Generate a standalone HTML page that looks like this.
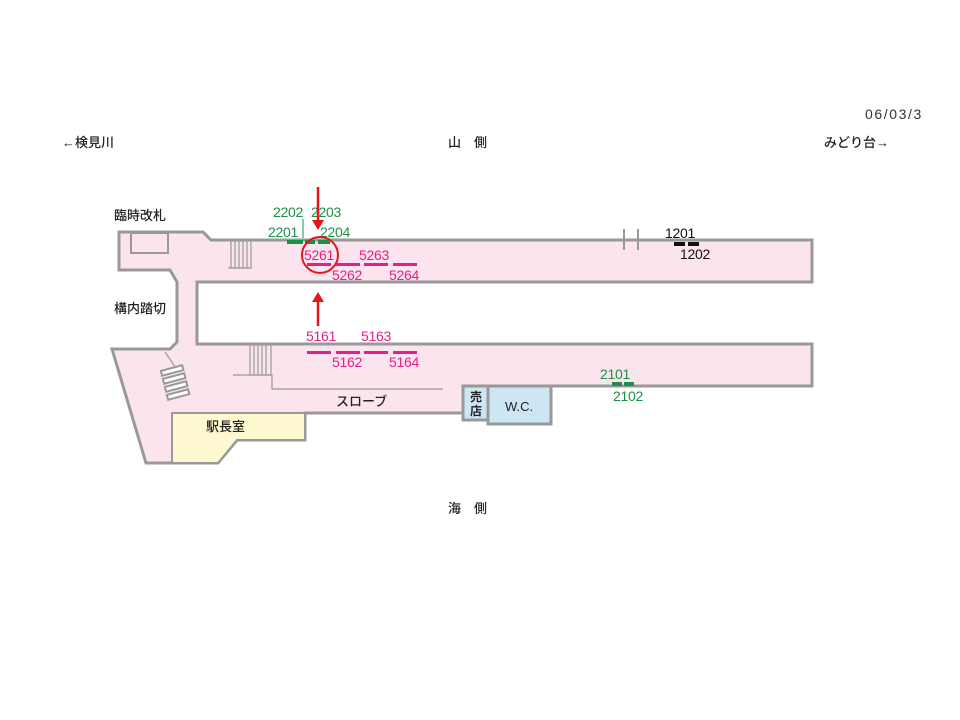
<!DOCTYPE html>
<html><head><meta charset="utf-8"><style>
html,body{margin:0;padding:0;background:#fff;}
svg{display:block;}
text{font-family:"Liberation Sans","Noto Sans CJK JP",sans-serif;}
.n{font-size:14px;letter-spacing:-0.3px;}
</style></head><body>
<svg width="960" height="720" viewBox="0 0 960 720" xmlns="http://www.w3.org/2000/svg">
<g font-size="13" fill="#222" font-weight="500">
<text x="62" y="147">←検見川</text>
<text x="448" y="147">山　側</text>
<text x="824" y="147">みどり台→</text>
<text x="865" y="119" font-size="14" letter-spacing="1.6" fill="#333">06/03/3</text>
<text x="114" y="220">臨時改札</text>
<text x="114" y="313">構内踏切</text>
<text x="448" y="513">海　側</text>
</g>
<path d="M119,232 L203,232 L211,240 L812,240 L812,282 L197,282 L197,344 L812,344 L812,386 L463,386 L463,413 L305,413 L305,440 L237,440 L218,463 L146,463 L112,349 L170,349 L177,342 L177,282 L170,270 L119,270 Z" fill="#fce4ee" stroke="#999" stroke-width="3" stroke-linejoin="miter"/>
<path d="M172,413 L305,413 L305,440 L237,440 L218,463 L172,463 Z" fill="#fdf8d0" stroke="#999" stroke-width="2"/>
<rect x="131" y="233" width="37" height="20" fill="none" stroke="#999" stroke-width="2"/>
<g stroke="#999" stroke-width="1.2" fill="none">
<rect x="231" y="241" width="20" height="27"/>
<line x1="235" y1="241" x2="235" y2="268"/><line x1="239" y1="241" x2="239" y2="268"/><line x1="243" y1="241" x2="243" y2="268"/><line x1="247" y1="241" x2="247" y2="268"/>
<line x1="228" y1="268" x2="251" y2="268"/>
<rect x="250" y="345" width="21" height="30"/>
<line x1="254" y1="345" x2="254" y2="375"/><line x1="258" y1="345" x2="258" y2="375"/><line x1="262" y1="345" x2="262" y2="375"/><line x1="266" y1="345" x2="266" y2="375"/>
<polyline points="233,375 272,375 272,389 443,389"/>
<line x1="165" y1="352" x2="176" y2="368"/>
</g>
<g stroke="#999" stroke-width="2" fill="#fff">
<rect x="161" y="368" width="22" height="5" transform="rotate(-15 172 370)"/>
<rect x="163" y="376" width="22" height="5" transform="rotate(-15 174 378)"/>
<rect x="165" y="384" width="22" height="5" transform="rotate(-15 176 386)"/>
<rect x="167" y="392" width="22" height="5" transform="rotate(-15 178 394)"/>
</g>
<rect x="463" y="386" width="25" height="34" fill="#cce6f4" stroke="#999" stroke-width="3"/>
<rect x="488" y="386" width="63" height="38" fill="#cce6f4" stroke="#999" stroke-width="3"/>
<text x="470" y="401" font-size="12" fill="#222" font-weight="bold">売</text>
<text x="470" y="415" font-size="12" fill="#222" font-weight="bold">店</text>
<text x="505" y="411" font-size="13" fill="#222">W.C.</text>
<text x="336" y="406" font-size="13" fill="#222" font-weight="500">スローブ</text>
<text x="206" y="431" font-size="13" fill="#222" font-weight="500">駅長室</text>
<g stroke="#999" stroke-width="2"><line x1="624" y1="229" x2="624" y2="250"/><line x1="638" y1="229" x2="638" y2="250"/></g>
<g fill="#1a9048" class="n">
<text x="273" y="217" class="n">2202</text><text x="311" y="217" class="n">2203</text>
<text x="268" y="237" class="n">2201</text><text x="320" y="237" class="n">2204</text>
<text x="600" y="379" class="n">2101</text><text x="613" y="401" class="n">2102</text>
</g>
<g stroke="#1a9048" stroke-width="1"><line x1="303" y1="219" x2="303" y2="238"/><line x1="318" y1="219" x2="318" y2="228"/></g>
<g fill="#1a9048"><rect x="287" y="240" width="16" height="4"/><rect x="305" y="240" width="10" height="4"/><rect x="318" y="240" width="12" height="4"/>
<rect x="612" y="382" width="10" height="4"/><rect x="624" y="382" width="10" height="4"/></g>
<text x="665" y="238" class="n" fill="#111">1201</text>
<text x="680" y="259" class="n" fill="#111">1202</text>
<rect x="674" y="242" width="11" height="4" fill="#111"/><rect x="688" y="242" width="11" height="4" fill="#111"/>
<g fill="#e0218a">
<text x="304" y="260" class="n">5261</text><text x="359" y="260" class="n">5263</text>
<text x="332" y="280" class="n">5262</text><text x="389" y="280" class="n">5264</text>
<text x="306" y="341" class="n">5161</text><text x="361" y="341" class="n">5163</text>
<text x="332" y="367" class="n">5162</text><text x="389" y="367" class="n">5164</text>
<rect x="307" y="263" width="24" height="3"/><rect x="336" y="263" width="24" height="3"/><rect x="364" y="263" width="24" height="3"/><rect x="393" y="263" width="24" height="3"/>
<rect x="307" y="351" width="24" height="3"/><rect x="336" y="351" width="24" height="3"/><rect x="364" y="351" width="24" height="3"/><rect x="393" y="351" width="24" height="3"/>
</g>
<circle cx="320" cy="255" r="18" fill="none" stroke="#e8141c" stroke-width="2"/>
<g stroke="#e8141c" stroke-width="2.5" fill="#e8141c">
<line x1="318" y1="187" x2="318" y2="222"/><polygon points="312,220 324,220 318,230" stroke="none"/>
<line x1="318" y1="300" x2="318" y2="326"/><polygon points="312,302 324,302 318,292" stroke="none"/>
</g>
</svg>
</body></html>
